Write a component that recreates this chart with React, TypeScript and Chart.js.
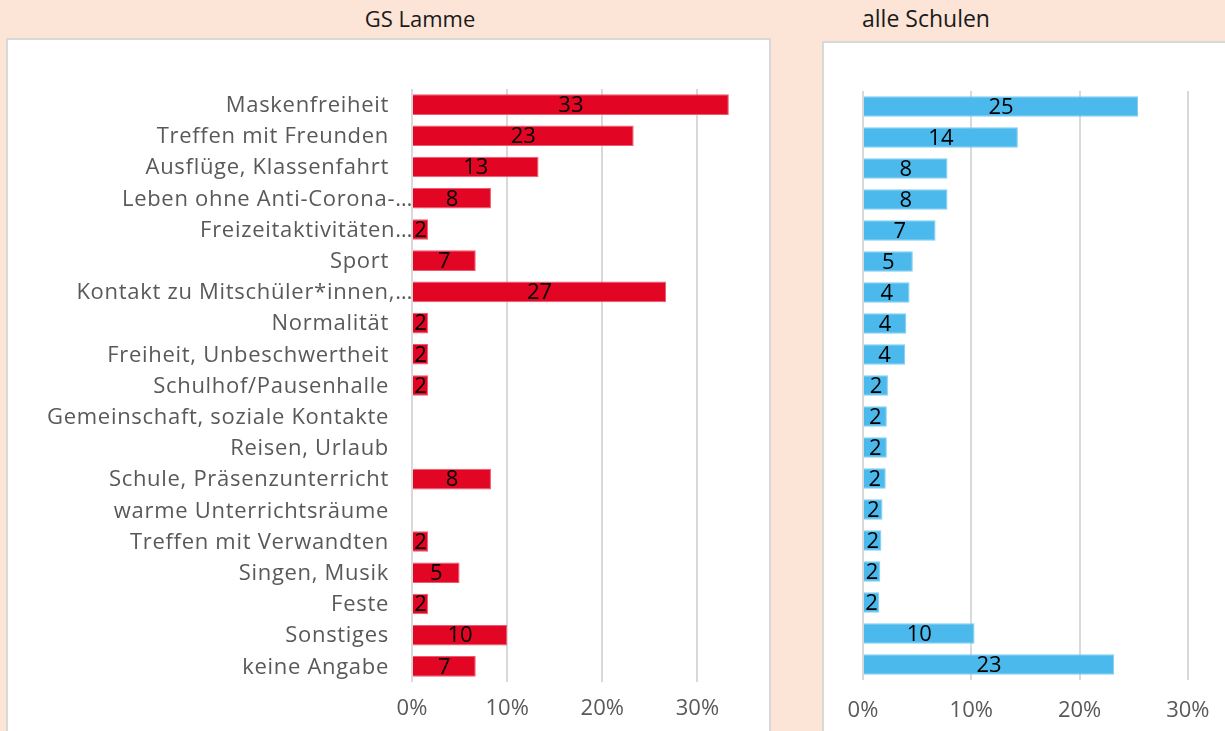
import React, { useEffect, useRef } from 'react';
import { Chart, registerables } from 'chart.js';

Chart.register(...registerables);

const categories = [
  'Maskenfreiheit',
  'Treffen mit Freunden',
  'Ausflüge, Klassenfahrt',
  'Leben ohne Anti-Corona-…',
  'Freizeitaktivitäten…',
  'Sport',
  'Kontakt zu Mitschüler*innen,…',
  'Normalität',
  'Freiheit, Unbeschwertheit',
  'Schulhof/Pausenhalle',
  'Gemeinschaft, soziale Kontakte',
  'Reisen, Urlaub',
  'Schule, Präsenzunterricht',
  'warme Unterrichtsräume',
  'Treffen mit Verwandten',
  'Singen, Musik',
  'Feste',
  'Sonstiges',
  'keine Angabe',
];

const lammeValues = [33.3, 23.3, 13.3, 8.3, 1.7, 6.7, 26.7, 1.7, 1.7, 1.7, 0, 0, 8.3, 0, 1.7, 5.0, 1.7, 10.0, 6.7];
const alleValues = [25.4, 14.3, 7.8, 7.8, 6.7, 4.6, 4.3, 4.0, 3.9, 2.3, 2.2, 2.2, 2.1, 1.8, 1.7, 1.6, 1.5, 10.3, 23.2];
const xTickValues = [0, 10, 20, 30];
const titleLeft = 'GS Lamme';
const titleRight = 'alle Schulen';

const FONT = '"Open Sans", "Noto Sans", sans-serif';

const valueLabels = {
  id: 'valueLabels',
  afterDatasetsDraw(chart: any) {
    const ctx = chart.ctx;
    const meta = chart.getDatasetMeta(0);
    const data = chart.data.datasets[0].data as number[];
    ctx.save();
    ctx.font = `22px ${FONT}`;
    ctx.fillStyle = '#000000';
    ctx.textAlign = 'center';
    ctx.textBaseline = 'middle';
    meta.data.forEach((bar: any, i: number) => {
      const v = data[i];
      if (!v) return;
      const p = bar.getProps(['x', 'y', 'base'], true);
      ctx.fillText(String(Math.round(v)), (p.x + p.base) / 2, p.y + 1);
    });
    ctx.restore();
  },
};

const categoryLabels = {
  id: 'categoryLabels',
  afterDraw(chart: any) {
    const ctx = chart.ctx;
    const yScale = chart.scales.y;
    const left = chart.chartArea.left;
    ctx.save();
    ctx.font = `22px ${FONT}`;
    try {
      (ctx as any).letterSpacing = '0.7px';
    } catch (e) {
      /* ignore */
    }
    ctx.fillStyle = '#595959';
    ctx.textAlign = 'right';
    ctx.textBaseline = 'middle';
    (chart.data.labels as string[]).forEach((lab, i) => {
      const y = yScale.getPixelForValue(i);
      const xr = lab.endsWith('…') ? left + 1 : left - 23;
      ctx.fillText(lab, xr, y + 1);
    });
    ctx.restore();
  },
};

function makeConfig(values: number[], color: string, border: string, opts: any, withLabels: boolean): any {
  return {
    type: 'bar',
    data: {
      labels: categories,
      datasets: [
        {
          data: values,
          backgroundColor: color,
          borderColor: border,
          borderWidth: 1,
          categoryPercentage: 1,
          barPercentage: 0.66,
        },
      ],
    },
    options: {
      indexAxis: 'y',
      responsive: false,
      animation: false,
      layout: { padding: { top: opts.padTop, right: opts.padRight, left: 0, bottom: 0 } },
      plugins: { legend: { display: false }, tooltip: { enabled: false }, title: { display: false } },
      scales: {
        x: {
          type: 'linear',
          min: 0,
          max: 35,
          afterBuildTicks(axis: any) {
            axis.ticks = xTickValues.map((v) => ({ value: v }));
          },
          afterFit(axis: any) {
            axis.height = opts.xHeight;
          },
          ticks: {
            stepSize: 10,
            padding: opts.tickPad,
            color: '#595959',
            font: { family: FONT, size: 22 },
            maxRotation: 0,
            callback: (v: any) => `${v}%`,
          },
          grid: { color: '#d9d9d9', lineWidth: 2, drawTicks: false },
          border: { display: false },
        },
        y: {
          type: 'category',
          afterFit(axis: any) {
            axis.width = opts.yWidth;
          },
          ticks: { display: false, autoSkip: false },
          grid: { display: false, drawTicks: false },
          border: { display: false },
        },
      },
    },
    plugins: withLabels ? [valueLabels, categoryLabels] : [valueLabels],
  };
}

export default function App() {
  const leftRef = useRef<HTMLCanvasElement>(null);
  const rightRef = useRef<HTMLCanvasElement>(null);

  useEffect(() => {
    const c1 = new Chart(
      leftRef.current as HTMLCanvasElement,
      makeConfig(lammeValues, '#e30624', '#ee5a6f', { padTop: 49, padRight: 23, xHeight: 49, yWidth: 404, tickPad: 14 }, true)
    );
    const c2 = new Chart(
      rightRef.current as HTMLCanvasElement,
      makeConfig(alleValues, '#4cb9ec', '#7ecdf3', { padTop: 48, padRight: 12, xHeight: 51, yWidth: 39, tickPad: 18 }, false)
    );
    return () => {
      c1.destroy();
      c2.destroy();
    };
  }, []);

  const titleStyle: React.CSSProperties = {
    position: 'absolute',
    fontFamily: FONT,
    color: '#1a1a1a',
    whiteSpace: 'nowrap',
    transform: 'translateX(-50%)',
  };

  return (
    <div
      style={{
        position: 'absolute',
        left: 0,
        top: 0,
        width: 1225,
        height: 731,
        overflow: 'hidden',
        background: '#fce4d6',
      }}
    >
      <div style={{ ...titleStyle, left: 420, top: 7, fontSize: 22, lineHeight: '22px' }}>{titleLeft}</div>
      <div style={{ ...titleStyle, left: 926, top: 7, fontSize: 23, lineHeight: '23px' }}>{titleRight}</div>
      <div
        style={{
          position: 'absolute',
          left: 6,
          top: 38,
          width: 765,
          height: 720,
          background: '#ffffff',
          border: '2px solid #d9d9d9',
          boxSizing: 'border-box',
        }}
      />
      <div
        style={{
          position: 'absolute',
          left: 822,
          top: 41,
          width: 440,
          height: 720,
          background: '#ffffff',
          border: '2px solid #d9d9d9',
          boxSizing: 'border-box',
        }}
      />
      <canvas
        ref={leftRef}
        width={760}
        height={691}
        style={{ position: 'absolute', left: 8, top: 40, width: 760, height: 691 }}
      />
      <canvas
        ref={rightRef}
        width={430}
        height={688}
        style={{ position: 'absolute', left: 824, top: 43, width: 430, height: 688 }}
      />
    </div>
  );
}
